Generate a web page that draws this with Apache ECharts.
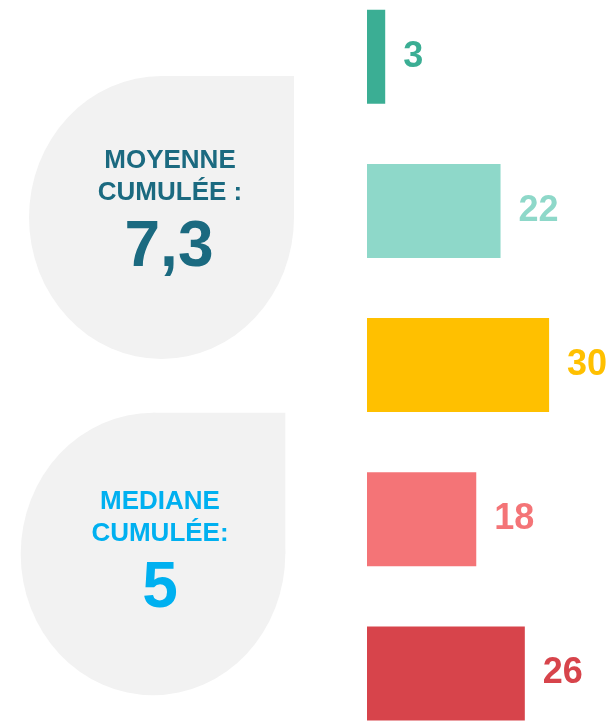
<!DOCTYPE html>
<html>
<head>
<meta charset="utf-8">
<script src="https://cdn.jsdelivr.net/npm/echarts@6/dist/echarts.min.js"></script>
<style>
    html, body { margin: 0; padding: 0; background: #fff; }
    #chart { width: 613px; height: 721px; }
</style>
</head>
<body>
<div id="chart"></div>
<script>
    // valeurs des barres (de haut en bas)
    var categories = ['1', '2', '3', '4', '5'];
    var values = [3, 22, 30, 18, 26];
    var barColors = ['#3BAE94', '#8ED8C9', '#FFC000', '#F47477', '#D7444B'];

    // textes des deux bulles
    var moyenneLabel = ['MOYENNE', 'CUMULÉE :'];
    var moyenneValue = '7,3';
    var medianeLabel = ['MEDIANE', 'CUMULÉE:'];
    var medianeValue = '5';

    var font = "'Liberation Sans', Arial, sans-serif";

    // goutte : ellipse + coin haut-droit carré
    function drop(cx, cy, rx, ry) {
        return {
            type: 'group',
            silent: true,
            children: [
                {
                    type: 'circle',
                    x: cx, y: cy,
                    scaleY: ry / rx,
                    shape: { cx: 0, cy: 0, r: rx },
                    style: { fill: '#F2F2F2' }
                },
                {
                    type: 'rect',
                    shape: { x: cx, y: cy - ry, width: rx, height: ry },
                    style: { fill: '#F2F2F2' }
                }
            ]
        };
    }

    function txt(x, y, text, size, color) {
        return {
            type: 'text',
            x: x, y: y, z: 2,
            style: {
                text: text,
                fontSize: size,
                fontWeight: 'bold',
                fontFamily: font,
                fill: color,
                align: 'center',
                verticalAlign: 'middle'
            }
        };
    }

    var chart = echarts.init(document.getElementById('chart'));

    var options = {
        animation: false,
        backgroundColor: '#fff',
        grid: {
            left: 367,
            top: 56.7,
            width: 242.8,
            height: 616.8
        },
        xAxis: {
            type: 'value',
            min: 0,
            max: 40,
            show: false
        },
        yAxis: {
            type: 'category',
            data: categories,
            inverse: true,
            boundaryGap: false,
            show: false
        },
        graphic: [
            drop(161.5, 217.5, 132.5, 141.5),
            drop(153, 554, 132.3, 141.3),
            txt(170, 161, moyenneLabel[0], 26, '#1B6A80'),
            txt(170, 193, moyenneLabel[1], 26, '#1B6A80'),
            txt(169, 248, moyenneValue, 64, '#1B6A80'),
            txt(160, 502, medianeLabel[0], 26, '#00B0F0'),
            txt(160, 534, medianeLabel[1], 26, '#00B0F0'),
            txt(160, 589, medianeValue, 64, '#00B0F0')
        ],
        series: [
            {
                type: 'bar',
                barWidth: 94,
                clip: false,
                data: values.map(function (v, i) {
                    return {
                        value: v,
                        itemStyle: { color: barColors[i] },
                        label: { color: barColors[i] }
                    };
                }),
                label: {
                    show: true,
                    position: 'right',
                    distance: 18,
                    fontSize: 36,
                    fontWeight: 'bold',
                    fontFamily: font
                }
            }
        ]
    };

    chart.setOption(options);
</script>
</body>
</html>
